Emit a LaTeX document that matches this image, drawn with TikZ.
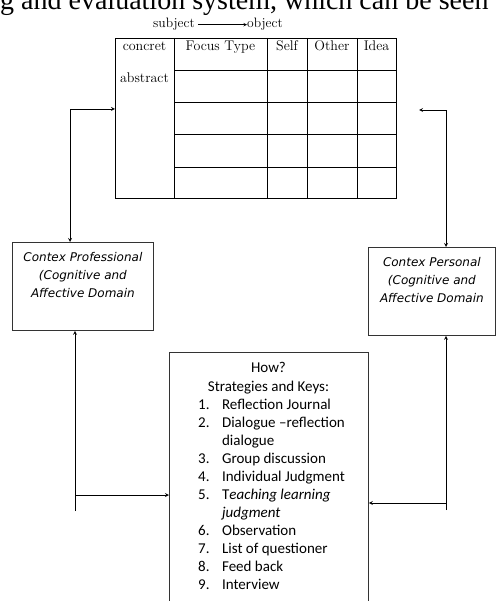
\documentclass[tikz,border=0pt]{standalone}
\usepackage{fontspec}
\usetikzlibrary{arrows,positioning}
\newfontfamily\captionfont{Liberation Serif}
\newfontfamily\ctxfont{DejaVu Sans}
\newfontfamily\listfont{Carlito}
\tikzstyle{arrow} = [line width=0.8pt,->,>=stealth]
\tikzstyle{frame} = [rectangle, draw=black!80, line width=0.8pt, inner sep=0pt]
\tikzstyle{ctx} = [frame, minimum width=141pt, minimum height=88pt, anchor=north west]
\tikzstyle{ctxlabel} = [anchor=north, align=center, inner sep=0pt, font=\ctxfont\itshape\fontsize{12}{18}\selectfont]
\tikzstyle{cell} = [anchor=base, inner sep=0pt, font=\fontsize{14}{16}\selectfont]

\begin{document}
\begin{tikzpicture}[x=1pt,y=-1pt]
\useasboundingbox (0,0) rectangle (496,601);
% caption line, cut off at the top
\node (caption) [anchor=base west, inner sep=0pt, font=\captionfont\fontsize{28}{30}\selectfont] at (0,10) {g and evaluation system, which can be seen};

% subject -> object
\node (subj) [anchor=base west, inner sep=0pt, font=\fontsize{13.6}{16}\selectfont] at (153,28) {subject};
\node (obj) [anchor=base west, inner sep=0pt, font=\fontsize{13.6}{16}\selectfont] at (247,28) {object};
\draw[->, >=stealth, line width=0.6pt, shorten <=3pt] (subj.east) -- (obj.west);

% focus table
\node (tab) [draw, line width=0.8pt, minimum width=281pt, minimum height=160pt, anchor=north west, inner sep=0pt] at (115,38) {};
\foreach \x in {174,267,307,357}
  \draw[line width=0.8pt] (\x,38) -- (\x,198);
\foreach \y in {70,102,134,167}
  \draw[line width=0.8pt] (174,\y) -- (396,\y);
\node (concret) [cell] at (144.5,51) {concret};
\node (abstract) [cell] at (144.5,83) {abstract};
\foreach \x/\t in {220.5/Focus Type, 287/Self, 332/Other, 376.5/Idea}
  \node [cell] at (\x,51) {\t};

% context boxes
\node (prof) [ctx] at (12,242) {};
\node (proflab) [ctxlabel] at ([yshift=-10pt]prof.north) {Contex Professional\\(Cognitive and\\Affective Domain};
\node (pers) [ctx, minimum width=127pt] at (368,247) {};
\node (perslab) [ctxlabel] at ([yshift=-10pt]pers.north) {Contex Personal\\(Cognitive and\\Affective Domain};

% strategies box
\node (how) [frame, minimum width=199pt, minimum height=270pt, anchor=north west] at (169,352) {};
\node (howlab) [anchor=base, inner sep=0pt, font=\listfont\fontsize{15}{19}\selectfont] at (268.5,372) {
\begin{tabular}[t]{@{}c@{}}
How?\\
Strategies and Keys:
\end{tabular}
};
\node (keys) [anchor=base west, inner sep=0pt, font=\listfont\fontsize{15}{18}\selectfont] at (198,409) {
\begin{tabular}[t]{@{}l@{\hspace{12.5pt}}l@{}}
1. & Reflection Journal\\
2. & Dialogue –reflection\\
   & dialogue\\
3. & Group discussion\\
4. & Individual Judgment\\
5. & T{\itshape eaching learning}\\
   & {\itshape judgment}\\
6. & Observation\\
7. & List of questioner\\
8. & Feed back\\
9. & Interview
\end{tabular}
};

% connectors
\coordinate (lturn) at (70,109);
\draw[arrow, <->] (tab.west |- lturn) -- (lturn) -- (lturn |- prof.north);
\coordinate (rtip) at (419,110);
\coordinate (rturn) at (446,110);
\draw[arrow, <->] (rtip) -- (rturn) -- (rturn |- pers.north);

\coordinate (lbot) at (75,511);
\coordinate (lmid) at (75,495);
\draw[arrow] (lbot) -- (lbot |- prof.south);
\draw[arrow] (lmid) -- (lmid -| how.west);
\coordinate (rbot) at (446,510);
\coordinate (rmid) at (446,503);
\draw[arrow] (rbot) -- (rbot |- pers.south);
\draw[arrow] (rmid) -- (rmid -| how.east);
\end{tikzpicture}
\end{document}
